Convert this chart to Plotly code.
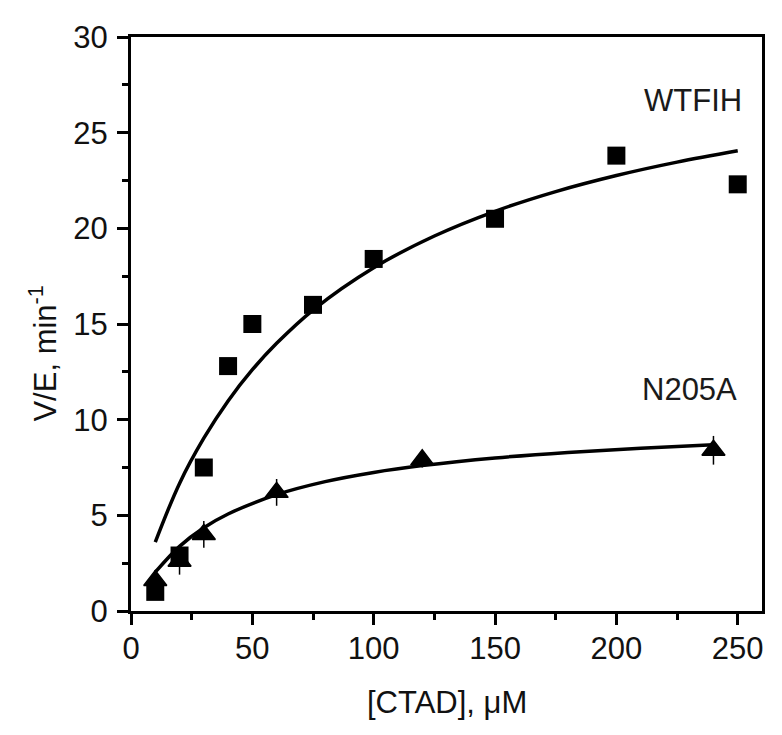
import plotly.graph_objects as go

# WTFIH data (squares)
wt_x = [10, 20, 30, 40, 50, 75, 100, 150, 200, 250]
wt_y = [1.0, 2.9, 7.5, 12.8, 15.0, 16.0, 18.4, 20.5, 23.8, 22.3]

# N205A data (triangles)
mut_x = [10, 20, 30, 60, 120, 240]
mut_y = [1.6, 2.6, 4.0, 6.2, 7.9, 8.4]
mut_err = [0.3, 0.7, 0.7, 0.7, 0.4, 0.75]

# fitted curves
wt_fit_x = [10, 20, 30, 40, 50, 60, 75, 100, 125, 150, 175, 200, 225, 250]
wt_fit_y = [3.6, 6.67, 9.03, 10.98, 12.61, 13.99, 15.73, 17.94, 19.60, 20.89, 21.92, 22.76, 23.46, 24.05]
mut_fit_x = [10, 20, 30, 40, 60, 80, 100, 120, 150, 180, 210, 240]
mut_fit_y = [2.03, 3.38, 4.35, 5.07, 6.08, 6.76, 7.24, 7.60, 8.00, 8.29, 8.51, 8.69]

x_ticks = [0, 50, 100, 150, 200, 250]
y_ticks = [0, 5, 10, 15, 20, 25, 30]

FONT = "Liberation Sans, Arial, sans-serif"

fig = go.Figure()
fig.add_trace(go.Scatter(x=wt_fit_x, y=wt_fit_y, mode="lines", line=dict(color="black", width=3.5, shape="spline"), showlegend=False))
fig.add_trace(go.Scatter(x=mut_fit_x, y=mut_fit_y, mode="lines", line=dict(color="black", width=3.5, shape="spline"), showlegend=False))
fig.add_trace(go.Scatter(x=wt_x, y=wt_y, mode="markers", marker=dict(symbol="square", size=18, color="black"), showlegend=False))
fig.add_trace(go.Scatter(x=mut_x, y=mut_y, mode="markers",
                         marker=dict(symbol="triangle-up", size=20, color="black", line=dict(color="black", width=1.5)),
                         error_y=dict(type="data", array=mut_err, color="black", thickness=1.5, width=0),
                         showlegend=False))

fig.add_annotation(x=231.6, y=26.7, text="WTFIH", showarrow=False, font=dict(family=FONT, size=31, color="#1a1a1a"))
fig.add_annotation(x=230.3, y=11.6, text="N205A", showarrow=False, font=dict(family=FONT, size=31, color="#1a1a1a"))
fig.add_annotation(xref="paper", yref="paper", x=-0.139, y=0.449, text="V/E, min<sup>-1</sup>", textangle=-90,
                   showarrow=False, xanchor="center", yanchor="middle", font=dict(family=FONT, size=31, color="#111"))
fig.add_annotation(xref="paper", yref="paper", x=0.5, y=-0.160, text="[CTAD], μM",
                   showarrow=False, xanchor="center", yanchor="middle", font=dict(family=FONT, size=31, color="#111"))

axis_common = dict(showgrid=False, zeroline=False, showline=True, linecolor="black", linewidth=3,
                   mirror=True, ticks="outside", ticklen=11, tickwidth=3, tickcolor="black",
                   tickfont=dict(family=FONT, size=31, color="#111"))
fig.update_xaxes(range=[0, 260], tickvals=x_ticks, ticktext=[str(v) for v in x_ticks], ticklabelstandoff=-3,
                 minor=dict(tickvals=[25, 75, 125, 175, 225], ticklen=6, tickwidth=3, tickcolor="black", ticks="outside"),
                 **axis_common)
fig.update_yaxes(range=[0, 30], tickvals=y_ticks, ticktext=[str(v) for v in y_ticks], ticklabelstandoff=3,
                 minor=dict(tickvals=[2.5, 7.5, 12.5, 17.5, 22.5, 27.5], ticklen=6, tickwidth=3, tickcolor="black", ticks="outside"),
                 **axis_common)

fig.update_layout(width=774, height=727, margin=dict(l=123, r=20, t=22, b=124),
                  plot_bgcolor="white", paper_bgcolor="white", font=dict(family=FONT))

fig.write_html("out.html")
